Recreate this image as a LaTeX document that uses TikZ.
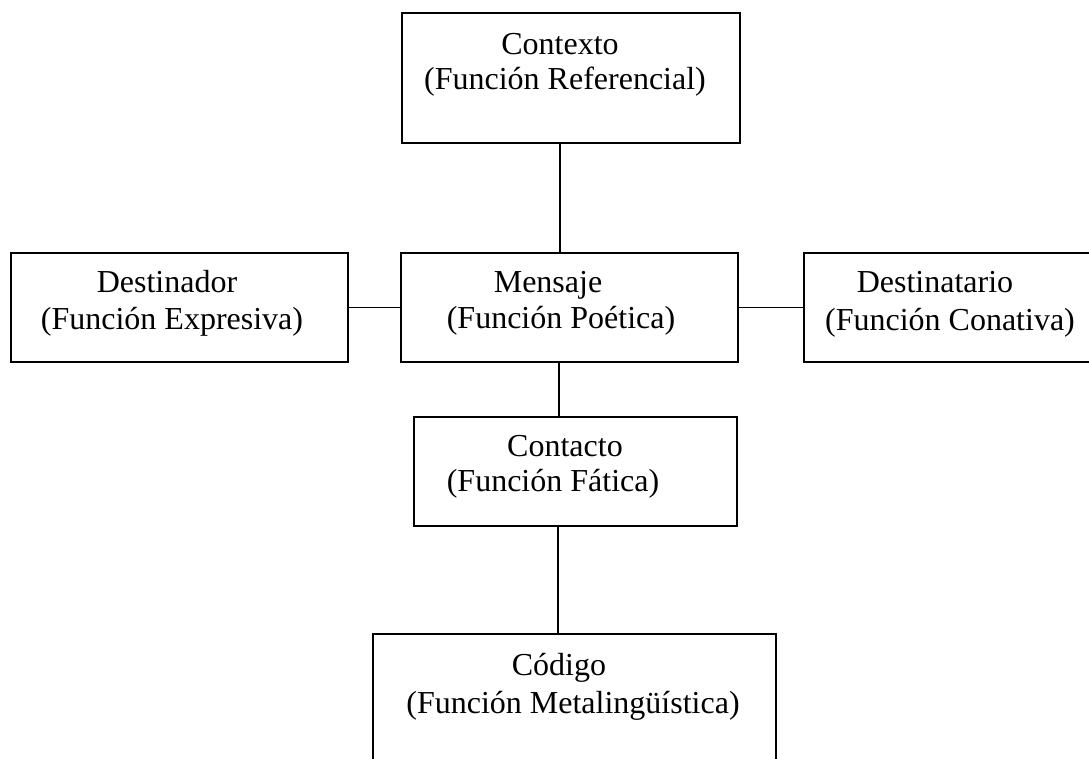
\documentclass[tikz,border=0pt]{standalone}
\usepackage{fontspec}
\setmainfont{Liberation Serif}
\begin{document}
\begin{tikzpicture}[x=1pt,y=1pt,
  box/.style={draw=black, line width=1.6pt, rectangle, inner sep=0pt},
  txt/.style={anchor=base, inner sep=0pt, font=\fontsize{32}{38}\selectfont},
  conn/.style={draw=black, line width=1.6pt}]
\useasboundingbox (0,0) rectangle (1089,758);
\clip (0,0) rectangle (1089,758);
\fill[white] (0,0) rectangle (1089,758);
% boxes
\node[box, minimum width=338pt, minimum height=130pt] (ctx) at (571,680) {};
\node[box, minimum width=337pt, minimum height=109pt] (men) at (569.5,450.5) {};
\node[box, minimum width=337pt, minimum height=109pt] (dor) at (179.5,450.5) {};
\node[box, minimum width=296pt, minimum height=109pt] (tar) at (952,450.5) {};
\node[box, minimum width=323pt, minimum height=109pt] (con) at (575.5,286.5) {};
\node[box, minimum width=403pt, minimum height=156pt] (cod) at (574.5,46) {};
% texts
\node[txt] (ctx1) at (560,703) {Contexto};
\node[txt] (ctx2) at (565,668) {(Función Referencial)};
\node[txt] (men1) at (548,465) {Mensaje};
\node[txt] (men2) at (561,429) {(Función Poética)};
\node[txt] (dor1) at (167,465) {Destinador};
\node[txt] (dor2) at (172,428) {(Función Expresiva)};
\node[txt] (tar1) at (935,465) {Destinatario};
\node[txt] (tar2) at (950,427) {(Función Conativa)};
\node[txt] (con1) at (565,301) {Contacto};
\node[txt] (con2) at (553,266) {(Función Fática)};
\node[txt] (cod1) at (559,83) {Código};
\node[txt] (cod2) at (573,45) {(Función Metalingüística)};
% connectors
\coordinate (va) at (560,0);
\coordinate (vb) at (559,0);
\coordinate (vc) at (558,0);
\draw[conn] (ctx.south -| va) -- (men.north -| va);
\draw[conn] (dor.east) -- (men.west);
\draw[conn] (men.east) -- (tar.west);
\draw[conn] (men.south -| vb) -- (con.north -| vb);
\draw[conn] (con.south -| vc) -- (cod.north -| vc);
\end{tikzpicture}
\end{document}
